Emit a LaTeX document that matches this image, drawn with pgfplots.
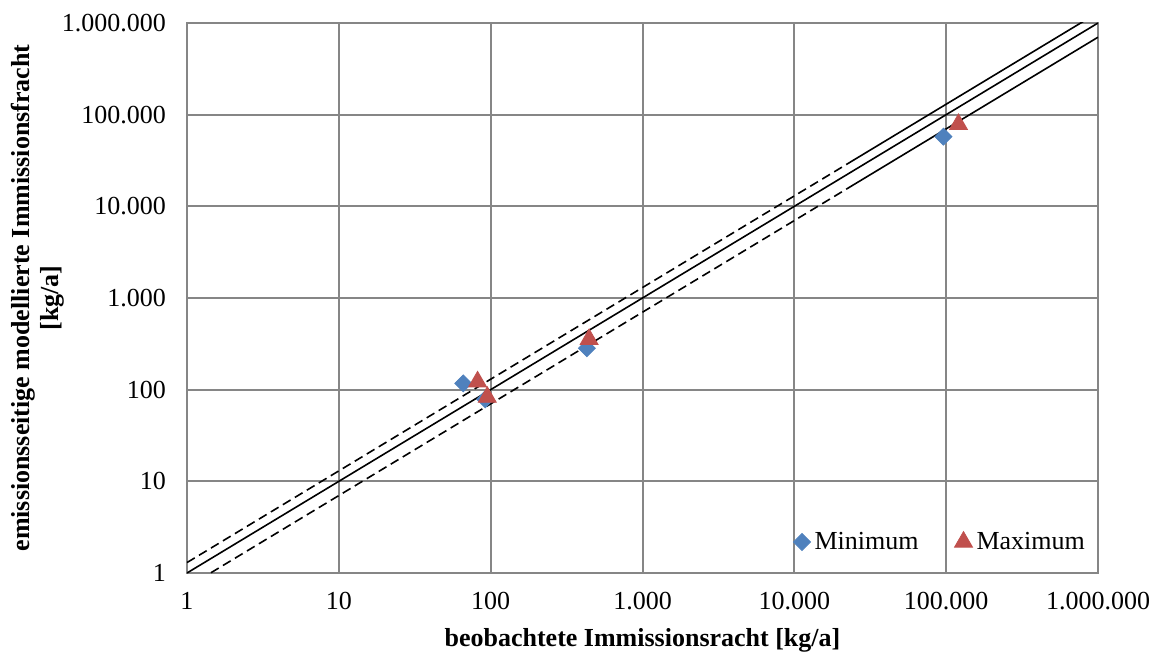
\documentclass[border=0pt]{standalone}
\usepackage{fontspec}
\setmainfont{Liberation Serif}
\usepackage{pgfplots}
\pgfplotsset{compat=1.18}
\definecolor{gridgray}{RGB}{134,134,134}
\definecolor{exblue}{RGB}{79,129,189}
\definecolor{exred}{RGB}{192,80,77}
\begin{document}
\begin{tikzpicture}
\begin{axis}[name=ax,
  width=455.5pt, height=275pt, scale only axis,
  xmode=log, ymode=log,
  xmin=1, xmax=1000000, ymin=1, ymax=1000000,
  xtick={1,10,100,1000,10000,100000,1000000},
  xticklabels={1,10,100,1.000,10.000,100.000,1.000.000},
  ytick={1,10,100,1000,10000,100000,1000000},
  yticklabels={1,10,100,1.000,10.000,100.000,1.000.000},
  grid=major,
  major grid style={draw=gridgray, line width=1pt},
  axis line style={draw=gridgray, line width=1pt},
  tick style={draw=none},
  major tick length=0pt, minor tick length=0pt,
  tick label style={font=\rmfamily\fontsize{13}{15}\selectfont},
  yticklabel style={xshift=-7pt},
  xticklabel style={yshift=-6pt},
  xlabel={beobachtete Immissionsracht [kg/a]},
  ylabel={emissionsseitige modellierte Immissionsfracht\\{[kg/a]}},
  xlabel style={at={(axis description cs:0.5,-0.1218)}, anchor=center, font=\rmfamily\fontsize{13}{15}\selectfont\bfseries},
  ylabel style={at={(axis description cs:-0.1636,0.5)}, anchor=center, align=center, font=\rmfamily\fontsize{13}{14.5}\selectfont\bfseries},
  legend style={draw=none, fill=none, at={(0.997,0.0564)}, anchor=east,
    font=\rmfamily\fontsize{13}{15}\selectfont, legend columns=2,
    /tikz/every even column/.append style={column sep=16pt}},
  legend image code/.code={\draw[#1] plot coordinates {(0.15cm,0cm)};},
]
\addplot[only marks, mark=square*, mark size=3pt, mark options={rotate=45, fill=exblue, draw=exblue}]
  coordinates {(66,117) (92,78.5) (430,283) (96000,57500)};
\addlegendentry{Minimum}
\addplot[only marks, mark=triangle*, mark size=5.2pt, mark options={fill=exred, draw=exred}]
  coordinates {(82,122) (95,83) (445,354) (120500,78400)};
\addlegendentry{Maximum}
\addplot[forget plot, black, line width=0.8pt] coordinates {(1,1) (1000000,1000000)};
\addplot[forget plot, black, line width=0.8pt, dash pattern=on 4.5pt off 2.5pt] coordinates {(1,1.3) (22000,28600)};
\addplot[forget plot, black, line width=0.8pt] coordinates {(22000,28600) (1000000,1300000)};
\addplot[forget plot, black, line width=0.8pt, dash pattern=on 4.5pt off 2.5pt] coordinates {(1,0.7) (22000,15400)};
\addplot[forget plot, black, line width=0.8pt] coordinates {(22000,15400) (1000000,700000)};
\end{axis}
\pgfresetboundingbox
\path ([shift={(-93.5pt,-41pt)}]ax.south west) rectangle ([shift={(27.5pt,11.5pt)}]ax.north east);
\end{tikzpicture}
\end{document}
